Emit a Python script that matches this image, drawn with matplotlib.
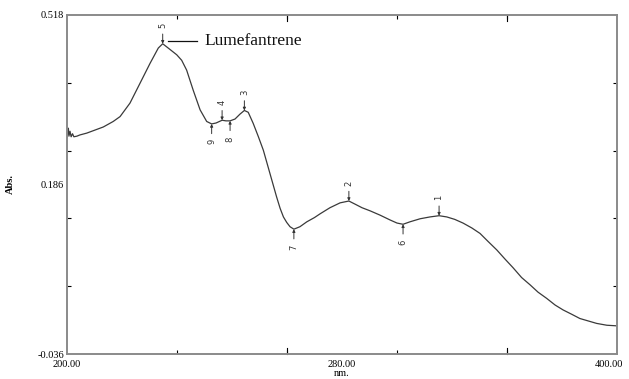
import matplotlib
matplotlib.use("Agg")
import matplotlib.pyplot as plt
import matplotlib.transforms as mtransforms
from matplotlib.lines import Line2D
import numpy as np

# Spectrum (wavelength nm, absorbance)
wavelength = [200.0, 200.5, 200.7, 201.1, 201.5, 202.0, 202.5, 203.6, 204.7, 207.2,
              213.2, 216.8, 219.3, 222.9, 226.5, 230.2, 233.2, 234.8, 236.8, 239.9,
              241.7, 243.5, 245.9, 248.4, 250.8, 252.6, 254.2, 256.4, 257.8, 259.3,
              261.1, 262.9, 264.5, 265.9, 267.7, 269.6, 271.4, 272.6, 273.8, 275.0,
              276.2, 277.5, 278.7, 279.9, 281.1, 282.5, 284.7, 287.2, 290.0, 292.0,
              295.6, 299.3, 302.5, 304.7, 307.3, 310.2, 313.8, 317.5, 320.0, 322.2,
              324.7, 328.4, 332.0, 335.3, 338.1, 341.0, 344.0, 347.2, 350.2, 353.1,
              356.3, 359.3, 362.2, 365.3, 368.4, 371.3, 374.4, 377.5, 380.4, 383.5,
              386.5, 392.6, 396.3, 400.0]
absorbance = [0.317, 0.333, 0.320, 0.328, 0.319, 0.324, 0.319, 0.320, 0.322, 0.325,
              0.335, 0.344, 0.352, 0.374, 0.406, 0.439, 0.464, 0.471, 0.464, 0.453,
              0.444, 0.428, 0.395, 0.363, 0.344, 0.340, 0.3415, 0.346, 0.345, 0.345,
              0.348, 0.356, 0.362, 0.359, 0.341, 0.319, 0.297, 0.278, 0.259, 0.240,
              0.221, 0.202, 0.188, 0.179, 0.172, 0.168, 0.172, 0.180, 0.187, 0.193,
              0.203, 0.211, 0.214, 0.209, 0.203, 0.198, 0.191, 0.183, 0.178, 0.176,
              0.180, 0.185, 0.188, 0.190, 0.188, 0.184, 0.178, 0.170, 0.161, 0.148,
              0.134, 0.119, 0.105, 0.089, 0.077, 0.065, 0.055, 0.044, 0.036, 0.029,
              0.022, 0.014, 0.011, 0.010]

# Peak / valley picks
peak_labels = ["1", "2", "3", "4", "5"]
peak_nm = [335.3, 302.5, 264.5, 256.4, 234.8]
peak_abs = [0.190, 0.214, 0.362, 0.346, 0.471]
valley_labels = ["6", "7", "8", "9"]
valley_nm = [322.2, 282.5, 259.3, 252.6]
valley_abs = [0.176, 0.168, 0.345, 0.340]

# Axis
x_min, x_max = 200.0, 400.0
y_min, y_max = -0.036, 0.518
x_tick_text = ["200.00", "280.00", "400.00"]
y_tick_text = ["-0.036", "0.186", "0.518"]
x_label = "nm."
y_label = "Abs."
compound = "Lumefantrene"

plt.rcParams['font.family'] = ['Liberation Serif', 'DejaVu Serif']

fig = plt.figure(figsize=(6.29, 3.79), dpi=100)
ax = fig.add_axes([67/629, 25/379, 550/629, 339/379])
ax.set_xlim(x_min, x_max)
ax.set_ylim(y_min, y_max)

ax.plot(wavelength, absorbance, color="#3a3a3a", lw=0.9)

for s in ax.spines.values():
    s.set_color("#8a8a8a")
    s.set_linewidth(1.4)

# tick labels at ends and middle
ax.set_xticks([x_min, (x_min + x_max) / 2, x_max])
ax.set_xticklabels(x_tick_text, fontsize=7.5)
ax.set_yticks([y_min, (y_min + y_max) / 2, y_max])
ax.set_yticklabels(y_tick_text, fontsize=7.5)
ax.tick_params(axis='both', which='major', length=0, pad=2)
ax.tick_params(axis='x', which='major', pad=4)
# nudge the last x label so it stays inside the figure
offset = mtransforms.ScaledTranslation(-6/72, 0, fig.dpi_scale_trans)
lbl = ax.get_xticklabels()[-1]
lbl.set_transform(lbl.get_transform() + offset)

# minor ticks
xdiv = np.linspace(x_min, x_max, 6)[1:-1]
ydiv = np.linspace(y_min, y_max, 6)[1:-1]
ax.set_xticks(xdiv, minor=True)
ax.set_yticks(ydiv, minor=True)
ax.tick_params(which='minor', direction='in', length=3, width=0.8, color='black',
               top=True, right=True, bottom=True, left=True)
# longer ticks at alternate x divisions
bt = mtransforms.blended_transform_factory(ax.transData, ax.transAxes)
for xv in xdiv[1::2]:
    ax.plot([xv, xv], [0, 0.018], transform=bt, color='black', lw=0.8, clip_on=False)
    ax.plot([xv, xv], [1, 1 - 0.018], transform=bt, color='black', lw=0.8, clip_on=False)

ax.set_xlabel(x_label, fontsize=7.5, labelpad=0)
ax.set_ylabel(y_label, fontsize=7.5, fontweight='bold')
ax.yaxis.set_label_coords(-0.095, 0.5)

# peak marks
for lab, xv, yv in zip(peak_labels, peak_nm, peak_abs):
    ax.annotate("", xy=(xv, yv), xytext=(0, 7), textcoords='offset points',
                arrowprops=dict(arrowstyle='-|>', color='#333333', lw=0.7,
                                mutation_scale=4, shrinkA=0, shrinkB=0))
    ax.annotate(lab, xy=(xv, yv), xytext=(0, 11), textcoords='offset points',
                ha='center', va='bottom', rotation=90, fontsize=6,
                family=['DejaVu Sans'], color='#333333')
for lab, xv, yv in zip(valley_labels, valley_nm, valley_abs):
    ax.annotate("", xy=(xv, yv), xytext=(0, -7), textcoords='offset points',
                arrowprops=dict(arrowstyle='-|>', color='#333333', lw=0.7,
                                mutation_scale=4, shrinkA=0, shrinkB=0))
    ax.annotate(lab, xy=(xv, yv), xytext=(0, -11), textcoords='offset points',
                ha='center', va='top', rotation=90, fontsize=6,
                family=['DejaVu Sans'], color='#333333')

# compound label
p5x, p5y = peak_nm[4], peak_abs[4]
ax.annotate(compound, xy=(p5x, p5y), xytext=(30, 2), textcoords='offset points',
            ha='left', va='center', fontsize=12.5, color='#111111')
ax.add_line(Line2D([p5x + 2.0, p5x + 12.5], [p5y + 0.005, p5y + 0.005],
                   color='#111111', lw=0.9))

fig.savefig("out.png", dpi=100)
